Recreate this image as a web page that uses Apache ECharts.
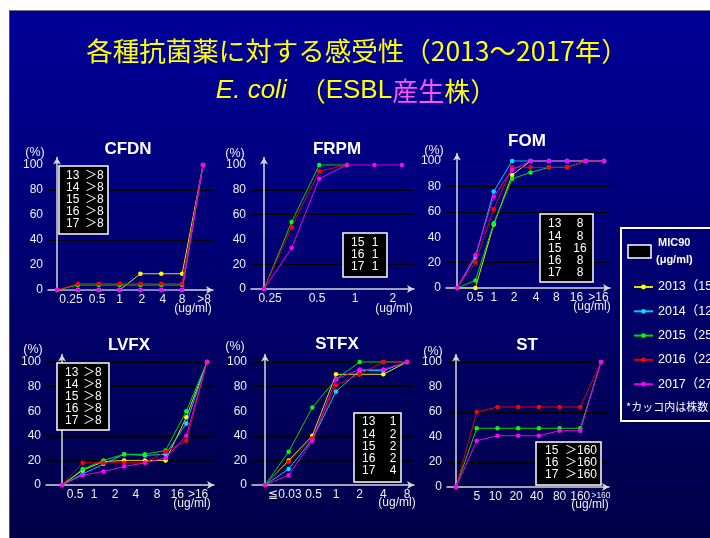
<!DOCTYPE html>
<html><head><meta charset="utf-8">
<script src="https://cdn.jsdelivr.net/npm/echarts@6/dist/echarts.min.js"></script>
<style>
html,body{margin:0;padding:0;background:#fff;width:710px;height:538px;overflow:hidden;}
#slide{position:absolute;left:9px;top:10px;width:701px;height:528px;background:linear-gradient(#000099,#000048);border-left:1px solid #555;border-top:1px solid #777;box-sizing:border-box;}
#chart{position:absolute;left:0;top:0;width:710px;height:538px;}
</style></head><body>
<div id="slide"></div><div id="chart"></div>
<script>
// ---------------- DATA ----------------
const years = ['2013', '2014', '2015', '2016', '2017'];
const strainCounts = [15, 12, 25, 22, 27];
const mainTitle1 = '各種抗菌薬に対する感受性（2013～2017年）';
const unitText = '(ug/ml)';
const pctText = '(%)';

// CFDN
const cfdnTicks = ['0.25', '0.5', '1', '2', '4', '8', '>8'];
const cfdn2013 = [0, 0, 0, 0, 13, 13, 13, 100];
const cfdn2014 = [0, 0, 0, 0, 0, 0, 0, 100];
const cfdn2015 = [0, 4, 4, 4, 4, 4, 4, 100];
const cfdn2016 = [0, 5, 5, 5, 5, 5, 5, 100];
const cfdn2017 = [0, 0, 0, 0, 0, 0, 0, 100];
const cfdnMicYears = ['13', '14', '15', '16', '17'];
const cfdnMic90 = ['＞8', '＞8', '＞8', '＞8', '＞8'];

// FRPM
const frpmTicks = ['0.25', '0.5', '1', '2'];
const frpm2013 = null;
const frpm2014 = null;
const frpm2015 = [0, 54, 100, 100];
const frpm2016 = [0, 50, 95, 100];
const frpm2017 = [0, 33, 89, 100, 100, 100];
const frpmMicYears = ['15', '16', '17'];
const frpmMic90 = ['1', '1', '1'];

// FOM
const fomTicks = ['0.5', '1', '2', '4', '8', '16', '>16'];
const fom2013 = [0, 0, 50, 89, 100, 100, 100, 100, 100];
const fom2014 = [0, 24, 76, 100, 100, 100, 100, 100, 100];
const fom2015 = [0, 6, 51, 86, 91, 95, 95, 100, 100];
const fom2016 = [0, 20, 62, 95, 95, 95, 95, 100, 100];
const fom2017 = [0, 26, 72, 93, 100, 100, 100, 100, 100];
const fomMicYears = ['13', '14', '15', '16', '17'];
const fomMic90 = ['8', '8', '16', '8', '8'];

// LVFX
const lvfxTicks = ['0.5', '1', '2', '4', '8', '16', '>16'];
const lvfx2013 = [0, 12, 19, 20, 20, 20, 55, 100];
const lvfx2014 = [0, 9, 17, 25, 24, 25, 50, 100];
const lvfx2015 = [0, 13, 20, 25, 25, 28, 60, 100];
const lvfx2016 = [0, 18, 18, 18, 18, 27, 36, 100];
const lvfx2017 = [0, 8, 11, 15, 18, 22, 40, 100];
const lvfxMicYears = ['13', '14', '15', '16', '17'];
const lvfxMic90 = ['＞8', '＞8', '＞8', '＞8', '＞8'];

// STFX
const stfxTicks = ['≦0.03', '0.5', '1', '2', '4', '8'];
const stfx2013 = [0, 20, 40, 90, 90, 90, 100];
const stfx2014 = [0, 13, 37, 76, 93, 93, 100];
const stfx2015 = [0, 27, 63, 86, 100, 100, 100];
const stfx2016 = [0, 19, 38, 81, 90, 100, 100];
const stfx2017 = [0, 8, 36, 86, 94, 94, 100];
const stfxMicYears = ['13', '14', '15', '16', '17'];
const stfxMic90 = ['1', '2', '2', '2', '4'];

// ST
const stTicks = ['5', '10', '20', '40', '80', '160', '>160'];
const st2013 = null;
const st2014 = null;
const st2015 = [0, 47, 47, 47, 47, 47, 47, 100];
const st2016 = [0, 60, 64, 64, 64, 64, 64, 100];
const st2017 = [0, 37, 41, 41, 41, 45, 45, 100];
const stMicYears = ['15', '16', '17'];
const stMic90 = ['＞160', '＞160', '＞160'];

// ---------------- STYLE / LAYOUT ----------------
const markColors = ['#ffff00', '#00e0ff', '#00ff00', '#ff0000', '#ff00ff'];
const lineColors = ['#e0e000', '#00c8f0', '#00d800', '#e00000', '#e800e8'];
const LAT = '"Liberation Sans", Arial, sans-serif';
const JP = '"Noto Sans CJK JP", sans-serif';

const panels = [
  {name: 'CFDN', ticks: cfdnTicks, values: [cfdn2013, cfdn2014, cfdn2015, cfdn2016, cfdn2017], micYears: cfdnMicYears, mic: cfdnMic90,
   lay: {axisX: 48, y0: 290, y100: 165, p0: 57, pN: 203, right: 213, labelPos: [0.67, 1.92, 3, 4.07, 5.08, 6, 7.05],
         title: [128, 149], pct: [35, 153], unit: [193, 309],
         box: {x: 59, y: 166, w: 49, h: 68, row0: 175.5, step: 12.1, yearX: 66, valX: 85, valAlign: 'left'}}},
  {name: 'FRPM', ticks: frpmTicks, values: [frpm2013, frpm2014, frpm2015, frpm2016, frpm2017], micYears: frpmMicYears, mic: frpmMic90,
   lay: {axisX: 251, y0: 289, y100: 165, p0: 264, pN: 402, right: 414, labelPos: [0.22, 1.92, 3.3, 4.67],
         title: [337, 149], pct: [235, 154], unit: [394, 309],
         box: {x: 343, y: 233, w: 44, h: 44, row0: 243, step: 12, yearX: 351, valX: 375, valAlign: 'center'}}},
  {name: 'FOM', ticks: fomTicks, values: [fom2013, fom2014, fom2015, fom2016, fom2017], micYears: fomMicYears, mic: fomMic90,
   lay: {axisX: 446, y0: 288, y100: 161, p0: 457, pN: 604, right: 610, labelPos: [0.98, 2.0, 3.1, 4.3, 5.4, 6.5, 7.7],
         title: [527, 141], pct: [434, 151], unit: [592, 307],
         box: {x: 540, y: 214, w: 53, h: 68, row0: 224, step: 12.2, yearX: 548, valX: 580, valAlign: 'center'}}},
  {name: 'LVFX', ticks: lvfxTicks, values: [lvfx2013, lvfx2014, lvfx2015, lvfx2016, lvfx2017], micYears: lvfxMicYears, mic: lvfxMic90,
   lay: {axisX: 46, y0: 485, y100: 362, p0: 62, pN: 207, right: 214, labelPos: [0.63, 1.55, 2.56, 3.57, 4.59, 5.56, 6.57],
         title: [129, 345], pct: [33, 350], unit: [192, 504],
         box: {x: 57, y: 363, w: 52, h: 67, row0: 373, step: 12, yearX: 65, valX: 83, valAlign: 'left'}}},
  {name: 'STFX', ticks: stfxTicks, values: [stfx2013, stfx2014, stfx2015, stfx2016, stfx2017], micYears: stfxMicYears, mic: stfxMic90,
   lay: {axisX: 252, y0: 485, y100: 362, p0: 265, pN: 407, right: 414, labelPos: [0.84, 2.05, 3, 4, 5, 6],
         title: [337, 344], pct: [235, 347], unit: [397, 503],
         box: {x: 354, y: 413, w: 47, h: 69, row0: 422, step: 12.2, yearX: 362, valX: 393, valAlign: 'center'}}},
  {name: 'ST', ticks: stTicks, values: [st2013, st2014, st2015, st2016, st2017], micYears: stMicYears, mic: stMic90,
   lay: {axisX: 447, y0: 487, y100: 362, p0: 456, pN: 601, right: 609, labelPos: [1, 1.9, 2.9, 3.9, 5, 6, 7],
         title: [527, 345], pct: [433, 352], unit: [590, 505],
         box: {x: 536, y: 442, w: 65, h: 43, row0: 451, step: 12, yearX: 545, valX: 565, valAlign: 'left'}}}
];

const legendNames = years.map((y, j) => y + '（' + strainCounts[j] + '）');

const grids = [], xAxes = [], yAxes = [], series = [], graphics = [];
const axisColor = '#d8d8d8';
const txt = (x, y, text, font, fill, align) => ({
  type: 'text', x: x, y: y, silent: true,
  style: {text: text, font: font, fill: fill || '#fff', align: align || 'center', verticalAlign: 'middle',
          textAlign: align || 'center', textVerticalAlign: 'middle'}
});

panels.forEach((p, k) => {
  const L = p.lay;
  const n = Math.max.apply(null, p.values.map(v => v ? v.length : 0));
  const step = (L.pN - L.p0) / (n - 1);
  const xmin = -(L.p0 - L.axisX) / step;
  const xmax = (n - 1) + (L.right - L.pN) / step;
  const s = (L.y0 - L.y100) / 100;
  const yMax = 106;
  const top = L.y100 - (yMax - 100) * s;
  grids.push({left: L.axisX, top: top, width: L.right - L.axisX, height: L.y0 - top});
  xAxes.push({
    type: 'value', gridIndex: k, min: xmin, max: xmax,
    axisLine: {show: true, onZero: false, lineStyle: {color: axisColor, width: 1.5}, symbol: ['none', 'arrow'], symbolSize: [6, 7]},
    axisTick: {show: false}, splitLine: {show: false},
    axisLabel: {
      customValues: L.labelPos, hideOverlap: false, margin: 4, color: '#eeeeee', fontSize: 12, fontFamily: LAT,
      formatter: function (v) {
        const i = L.labelPos.findIndex(q => Math.abs(q - v) < 1e-6);
        if (i < 0) return '';
        const t = p.ticks[i];
        return (p.name === 'ST' && t === '>160') ? '{s|' + t + '}' : t;
      },
      rich: {s: {fontSize: 8.5, color: '#eeeeee', fontFamily: LAT}}
    }
  });
  yAxes.push({
    type: 'value', gridIndex: k, min: 0, max: yMax, interval: 20,
    axisLine: {show: true, lineStyle: {color: axisColor, width: 1.5}, symbol: ['none', 'arrow'], symbolSize: [6, 7]},
    axisTick: {show: false},
    axisLabel: {margin: 5, color: '#eeeeee', fontSize: 12, fontFamily: LAT, formatter: v => (v > 100 ? '' : String(v))},
    splitLine: {show: true, lineStyle: {width: 1, color: ['rgba(0,0,0,0)', '#000', '#000', '#000', '#000', '#000', 'rgba(0,0,0,0)']}}
  });
  p.values.forEach((vals, j) => {
    if (!vals) return;
    series.push({
      type: 'line', name: legendNames[j], xAxisIndex: k, yAxisIndex: k,
      data: vals.map((v, i) => [i, v]),
      symbol: 'circle', symbolSize: 4.5, showSymbol: true,
      itemStyle: {color: markColors[j]},
      lineStyle: {color: lineColors[j], width: 1},
      emphasis: {disabled: true}, animation: false, z: 3 + j
    });
  });
  graphics.push(txt(L.title[0], L.title[1], p.name, 'bold 17px ' + LAT, '#ffffff'));
  graphics.push(txt(L.pct[0], L.pct[1], pctText, '12.5px ' + LAT, '#eeeeee'));
  graphics.push(txt(L.unit[0], L.unit[1], unitText, '12px ' + LAT, '#eeeeee'));
  const B = L.box;
  graphics.push({type: 'rect', silent: true, shape: {x: B.x, y: B.y, width: B.w, height: B.h},
                 style: {fill: '#000', stroke: '#ffffff', lineWidth: 1.5}, z: 10});
  p.micYears.forEach((yc, r) => {
    const yy = B.row0 + r * B.step;
    graphics.push(Object.assign(txt(B.yearX, yy, yc, '12px ' + LAT, '#ffffff', 'left'), {z: 11}));
    graphics.push(Object.assign(txt(B.valX, yy, p.mic[r], '12px ' + LAT + ', ' + JP, '#ffffff', B.valAlign), {z: 11}));
  });
});

// main title
graphics.push(txt(357, 51, mainTitle1, '26.5px ' + JP, '#ffff00'));
graphics.push({
  type: 'text', x: 356, y: 91, silent: true,
  style: {
    text: '{i|E. coli}{n|　（}{l|ESBL}{p|産生}{n|株）}',
    align: 'center', verticalAlign: 'middle', textAlign: 'center', textVerticalAlign: 'middle',
    rich: {
      i: {fill: '#ffff00', fontStyle: 'italic', fontSize: 26, fontFamily: LAT},
      n: {fill: '#ffff00', fontSize: 26, fontFamily: JP},
      l: {fill: '#ffff00', fontSize: 26, fontFamily: LAT},
      p: {fill: '#ff55ff', fontSize: 26, fontFamily: JP}
    }
  }
});

// legend box
graphics.push({type: 'rect', silent: true, shape: {x: 621, y: 228, width: 100, height: 193},
               style: {fill: 'rgba(0,0,0,0)', stroke: '#ffffff', lineWidth: 2}});
graphics.push({type: 'rect', silent: true, shape: {x: 628, y: 245, width: 23, height: 13},
               style: {fill: '#000', stroke: '#ffffff', lineWidth: 1.5}});
graphics.push(txt(658, 243, 'MIC90', 'bold 11px ' + LAT, '#ffffff', 'left'));
graphics.push(txt(656, 260, '(μg/ml)', 'bold 11px ' + LAT, '#ffffff', 'left'));
graphics.push(txt(626, 407, '*カッコ内は株数', '11px ' + JP, '#ffffff', 'left'));

const option = {
  backgroundColor: 'transparent',
  animation: false,
  grid: grids, xAxis: xAxes, yAxis: yAxes, series: series,
  legend: {
    orient: 'vertical', left: 628, top: 275, itemWidth: 19, itemHeight: 6, itemGap: 10.3,
    data: legendNames, selectedMode: false,
    textStyle: {color: '#ffffff', fontSize: 12.5, lineHeight: 14, fontFamily: LAT + ', ' + JP}
  },
  graphic: {elements: graphics}
};
const chart = echarts.init(document.getElementById('chart'));
chart.setOption(option);
</script>
</body></html>
